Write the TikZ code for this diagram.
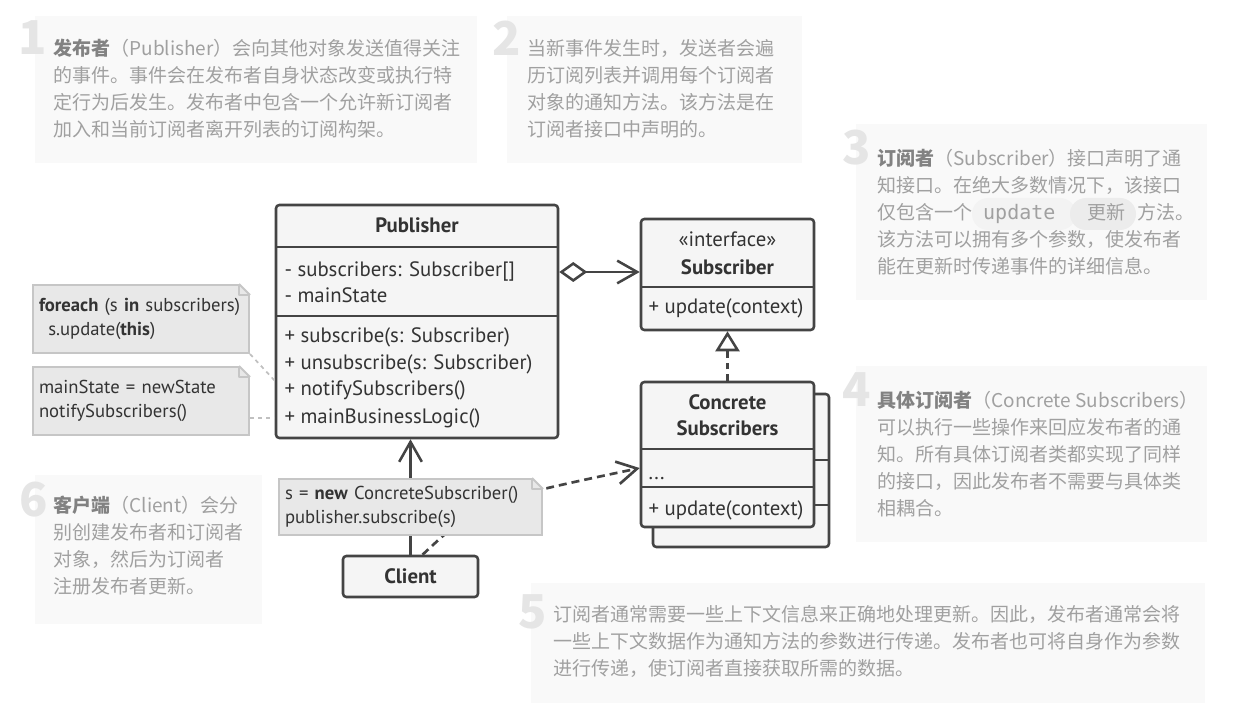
\documentclass[tikz,border=0pt]{standalone}
\usepackage{fontspec}
\setmainfont{PT Sans}
\newfontfamily\cjkfont{Noto Sans CJK SC}
\newfontfamily\codefont{DejaVu Sans Mono}
\usetikzlibrary{arrows.meta,calc}

\definecolor{umlline}{RGB}{68,68,68}
\definecolor{umlfill}{RGB}{245,245,245}
\definecolor{umltext}{RGB}{51,51,51}
\definecolor{notefill}{RGB}{232,232,232}
\definecolor{noteedge}{RGB}{198,198,198}
\definecolor{notelinkgray}{RGB}{192,192,192}
\definecolor{panelfill}{RGB}{249,249,249}
\definecolor{paneltext}{RGB}{160,160,160}
\definecolor{panelhead}{RGB}{130,130,130}
\definecolor{paneldigit}{RGB}{229,229,229}
\definecolor{pillone}{RGB}{243,243,243}
\definecolor{pilltwo}{RGB}{236,236,236}

\newcommand\umlfont{\fontsize{15.6}{19.5}\selectfont}
\newcommand\notefont{\fontsize{14}{17.5}\selectfont}
\newcommand\panelfont{\cjkfont\fontsize{14.25}{20.25}\selectfont}
\newcommand\headword[1]{{\bfseries\color{panelhead}#1}}

\tikzset{every picture/.style={line width=0.75pt}}
\tikzset{
  panel/.style={fill=panelfill, draw=none},
  panelnote/.style={font=\panelfont, text=paneltext, align=left, anchor=north west, inner sep=0pt},
  digit/.style={font=\cjkfont\bfseries\fontsize{35}{35}\selectfont, text=paneldigit, inner sep=0pt},
  pill/.style={draw=none, rounded corners=12pt},
  classbox/.style={draw=umlline, fill=umlfill, line width=1.9pt, rounded corners=2.5pt, inner sep=0pt},
  classrule/.style={draw=umlline, line width=1.9pt},
  member/.style={font=\umlfont, text=umltext, anchor=base west, inner sep=0pt},
  classname/.style={font=\umlfont\bfseries, text=umltext, align=center, inner sep=0pt},
  notebox/.style={draw=noteedge, fill=notefill, line width=1.5pt, font=\notefont, text=umltext, align=left, inner xsep=4.5pt, inner ysep=0pt},
  notefold/.style={draw=noteedge, line width=1.5pt, line join=round},
  notelink/.style={draw=notelinkgray, line width=1.3pt, dash pattern=on 3pt off 3pt},
  assoc/.style={draw=umlline, line width=1.9pt, -{Straight Barb[length=15pt,width=17pt]}},
  aggr/.style={draw=umlline, line width=1.9pt, {Diamond[open,length=21pt,width=15pt]}-{Straight Barb[length=15pt,width=17pt]}},
  realize/.style={draw=umlline, line width=1.9pt, dash pattern=on 5pt off 3.5pt, -{Triangle[open,length=15pt,width=18pt]}},
  depend/.style={draw=umlline, line width=2pt, dash pattern=on 6pt off 3.75pt, -{Straight Barb[length=15pt,width=17pt]}}
}

\begin{document}
\begin{tikzpicture}[x=0.75pt,y=0.75pt,yscale=-1,xscale=1]
\useasboundingbox (0,0) rectangle (1243,720);

%Shape: Rectangle 
\draw [panel] (35,16) rectangle (477,163) ;
%Shape: Rectangle 
\draw [panel] (507,16) rectangle (802,163) ;
%Shape: Rectangle 
\draw [panel] (856,124) rectangle (1207,300) ;
%Shape: Rectangle 
\draw [panel] (856,366) rectangle (1207,542) ;
%Shape: Rectangle 
\draw [panel] (531,583) rectangle (1205,703) ;
%Shape: Rectangle 
\draw [panel] (35,475) rectangle (262,624) ;

% Text Node
\draw (33,38) node [digit] (num1) {1};
% Text Node
\draw (507,38) node [digit] (num2) {2};
% Text Node
\draw (857,148) node [digit] (num3) {3};
% Text Node
\draw (857,390) node [digit] (num4) {4};
% Text Node
\draw (533,612) node [digit] (num5) {5};
% Text Node
\draw (34,500) node [digit] (num6) {6};

%Rounded Rect 
\draw [pill, fill=pillone] (972,198) rectangle (1076,230) ;
%Rounded Rect 
\draw [pill, fill=pilltwo] (1070,198) rectangle (1136,230) ;

% Text Node
\draw (53,38.5) node [panelnote] (pubtext) {\headword{发布者}（Publisher）会向其他对象发送值得关注\\的事件。事件会在发布者自身状态改变或执行特\\定行为后发生。发布者中包含一个允许新订阅者\\加入和当前订阅者离开列表的订阅构架。};
% Text Node
\draw (527,38.5) node [panelnote] (notifytext) {当新事件发生时，发送者会遍\\历订阅列表并调用每个订阅者\\对象的通知方法。该方法是在\\订阅者接口中声明的。};
% Text Node
\draw (877,148.5) node [panelnote] (subtext) {\headword{订阅者}（Subscriber）接口声明了通\\知接口。在绝大多数情况下，该接口\\仅包含一个\hspace{8pt}{\codefont\fontsize{15}{20}\selectfont update}\hspace{24pt}更新\hspace{9pt}方法。\\该方法可以拥有多个参数，使发布者\\能在更新时传递事件的详细信息。};
% Text Node
\draw (877,390.5) node [panelnote] (cstext) {\headword{具体订阅者}（Concrete Subscribers）\\可以执行一些操作来回应发布者的通\\知。所有具体订阅者类都实现了同样\\的接口，因此发布者不需要与具体类\\相耦合。};
% Text Node
\draw (553,605) node [panelnote] (contexttext) {订阅者通常需要一些上下文信息来正确地处理更新。因此，发布者通常会将\\一些上下文数据作为通知方法的参数进行传递。发布者也可将自身作为参数\\进行传递，使订阅者直接获取所需的数据。};
% Text Node
\draw (53,495.5) node [panelnote] (clienttext) {\headword{客户端}（Client）会分\\别创建发布者和订阅者\\对象，然后为订阅者\\注册发布者更新。};

%Shape: Rectangle 
\draw (417,321.5) node [classbox, minimum width=211.5pt, minimum height=174.75pt] (pub) {};
\draw [classrule] (276,247) -- (558,247) ;
\draw [classrule] (276,316) -- (558,316) ;
% Text Node
\draw (417,233) node [classname, anchor=base] (pubname) {Publisher};
% Text Node
\draw (284,277) node [member] (pubsubs) {- subscribers: Subscriber[]};
% Text Node
\draw (284,303) node [member] (pubstate) {- mainState};
% Text Node
\draw (284,343) node [member] (pubsubscribe) {+ subscribe(s: Subscriber)};
% Text Node
\draw (284,369) node [member] (pubunsubscribe) {+ unsubscribe(s: Subscriber)};
% Text Node
\draw (284,396) node [member] (pubnotify) {+ notifySubscribers()};
% Text Node
\draw (284,423) node [member] (publogic) {+ mainBusinessLogic()};

%Shape: Rectangle 
\draw (727.5,274.5) node [classbox, minimum width=129.75pt, minimum height=83.25pt] (sub) {};
\draw [classrule] (641,287) -- (814,287) ;
% Text Node
\draw (727.5,247) node [classname, anchor=base, font=\umlfont] (substereo) {«interface»};
% Text Node
\draw (727.5,274.5) node [classname, anchor=base] (subname) {Subscriber};
% Text Node
\draw (648,314) node [member] (subupdate) {+ update(context)};

%Shape: Rectangle 
\draw (741,470.5) node [classbox, minimum width=132pt, minimum height=114.75pt] (csback) {};
\draw [classrule] (653,460) -- (829,460) ;
\draw [classrule] (653,505) -- (829,505) ;
%Shape: Rectangle 
\draw (727.5,454.5) node [classbox, minimum width=129.75pt, minimum height=108.75pt] (cs) {};
\draw [classrule] (641,449) -- (814,449) ;
\draw [classrule] (641,487) -- (814,487) ;
% Text Node
\draw (727.5,415) node [classname] (csname) {Concrete\\Subscribers};
% Text Node
\draw (648,479) node [member] (csdots) {...};
% Text Node
\draw (648,515) node [member] (csupdate) {+ update(context)};

%Shape: Rectangle 
\draw (410.5,576.5) node [classbox, minimum width=101.25pt, minimum height=30.75pt, font=\umlfont\bfseries, text=umltext] (client) {Client};

%Straight Lines 
\draw [assoc] (client.north) -- (client.north |- pub.south) ;
%Curve Lines 
\draw [depend] ([xshift=9pt]client.north) .. controls (479,502) .. ($(cs.west |- csdots)+(0,-10)$) ;

%Shape: Note 
\draw (141,319) node [notebox, minimum width=162pt, minimum height=51pt, text width=153pt] (loopnote) {\textbf{foreach} (s \textbf{in} subscribers)\\\hspace*{7pt}s.update(\textbf{this})};
\fill [white] (loopnote.north east) ++(-14,-3) -- ++(17,0) -- ++(0,17) -- cycle ;
\draw [notefold] (loopnote.north east) ++(-11,0) -- ++(11,11) ;
\draw [notefold] (loopnote.north east) ++(-11,0) |- ++(11,11) ;
%Shape: Note 
\draw (141,401) node [notebox, minimum width=162pt, minimum height=51pt, text width=153pt] (statenote) {mainState = newState\\notifySubscribers()};
\fill [white] (statenote.north east) ++(-14,-3) -- ++(17,0) -- ++(0,17) -- cycle ;
\draw [notefold] (statenote.north east) ++(-11,0) -- ++(11,11) ;
\draw [notefold] (statenote.north east) ++(-11,0) |- ++(11,11) ;
%Shape: Note 
\draw (410.5,507) node [notebox, minimum width=197.25pt, minimum height=42pt, text width=188.25pt] (regnote) {s = \textbf{new} ConcreteSubscriber()\\publisher.subscribe(s)};
\fill [white] (regnote.north east) ++(-14,-3) -- ++(17,0) -- ++(0,17) -- cycle ;
\draw [notefold] (regnote.north east) ++(-11,0) -- ++(11,11) ;
\draw [notefold] (regnote.north east) ++(-11,0) |- ++(11,11) ;

%Straight Lines 
\draw [aggr] (pub.east |- pubsubs) -- (sub.west |- pubsubs) ;
%Straight Lines 
\draw [realize] (cs.north) -- (sub.south) ;
%Straight Lines 
\draw [notelink] (loopnote.south east) -- (pub.west |- pubnotify.north) ;
%Straight Lines 
\draw [notelink] (statenote.east |- publogic) -- (pub.west |- publogic) ;

\end{tikzpicture}
\end{document}
